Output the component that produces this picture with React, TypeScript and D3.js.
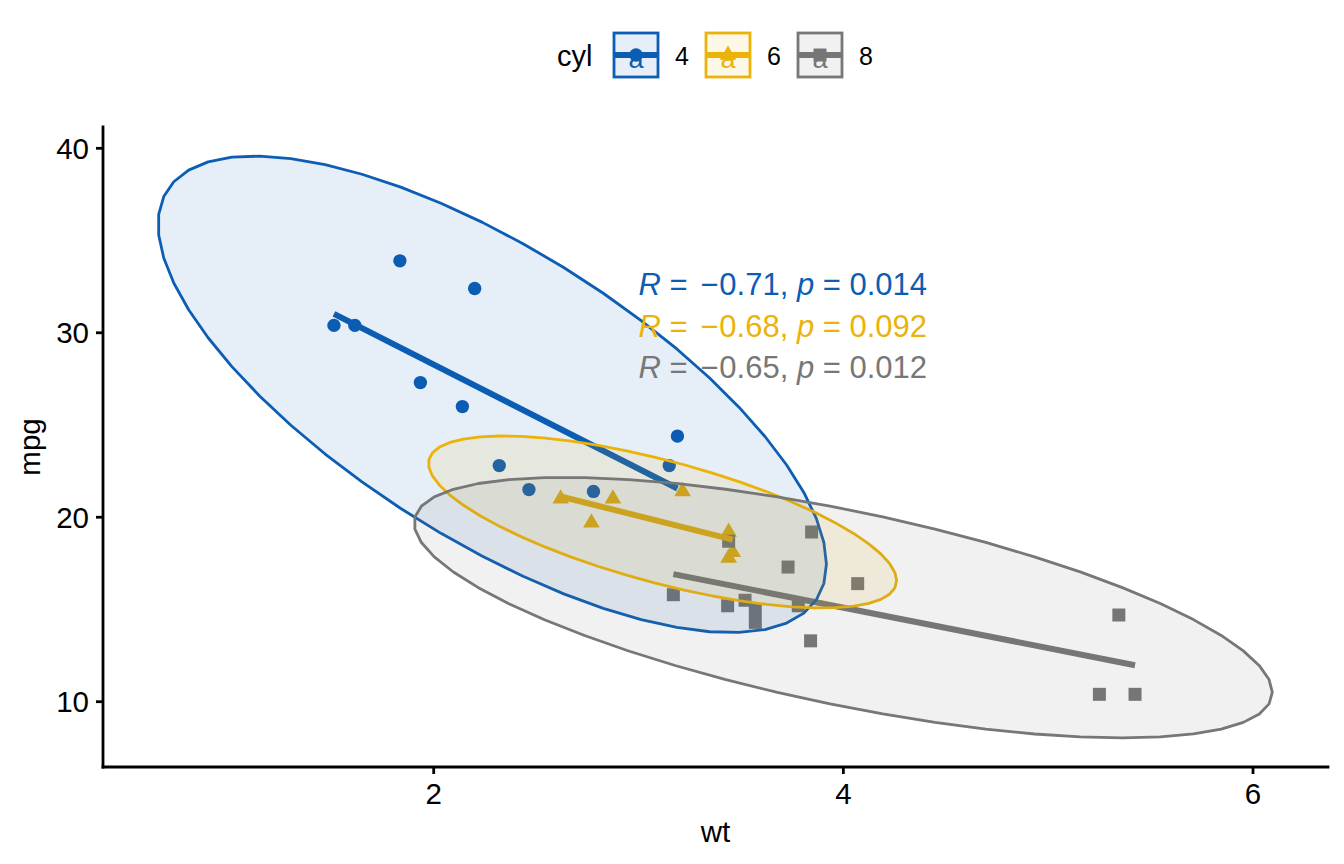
import React from 'react';
import * as d3 from 'd3';

// mtcars: weight (1000 lbs), miles per gallon, cylinders
const wt = [2.62, 2.875, 2.32, 3.215, 3.44, 3.46, 3.57, 3.19, 3.15, 3.44, 3.44, 4.07, 3.73, 3.78, 5.25, 5.424,
  5.345, 2.2, 1.615, 1.835, 2.465, 3.52, 3.435, 3.84, 3.845, 1.935, 2.14, 1.513, 3.17, 2.77, 3.57, 2.78];
const mpg = [21.0, 21.0, 22.8, 21.4, 18.7, 18.1, 14.3, 24.4, 22.8, 19.2, 17.8, 16.4, 17.3, 15.2, 10.4, 10.4,
  14.7, 32.4, 30.4, 33.9, 21.5, 15.5, 15.2, 13.3, 19.2, 27.3, 26.0, 30.4, 15.8, 19.7, 15.0, 21.4];
const cyl = [6, 6, 4, 6, 8, 6, 8, 4, 4, 6, 6, 8, 8, 8, 8, 8, 8, 4, 4, 4, 4, 8, 8, 8, 8, 4, 4, 4, 8, 6, 8, 4];

const groups = [4, 6, 8];
const colors = ['#0C5DB4', '#EBB30A', '#777777'];
const corR = ['0.71', '0.68', '0.65'];
const corP = ['0.014', '0.092', '0.012'];
const xTicks = [2, 4, 6];
const yTicks = [10, 20, 30, 40];

const W = 1344;
const H = 864;
const margin = { left: 103, right: 16, top: 127, bottom: 97 };
const font = '"Liberation Sans", Arial, Helvetica, sans-serif';

// normal-theory 95% ellipse, as stat_ellipse(type = "norm") builds it
const level = 0.95;
const segments = 51;

const stats = groups.map((g) => {
  const idx = d3.range(wt.length).filter((i) => cyl[i] === g);
  const xs = idx.map((i) => wt[i]);
  const ys = idx.map((i) => mpg[i]);
  const n = xs.length;
  const mx = d3.mean(xs)!;
  const my = d3.mean(ys)!;
  const sxx = d3.sum(xs, (x) => (x - mx) ** 2) / (n - 1);
  const syy = d3.sum(ys, (y) => (y - my) ** 2) / (n - 1);
  const sxy = d3.sum(xs.map((x, k) => (x - mx) * (ys[k] - my))) / (n - 1);
  const dfd = n - 1;
  const fq = (dfd / 2) * (Math.pow(1 - level, -2 / dfd) - 1);
  const radius = Math.sqrt(2 * fq);
  const a = Math.sqrt(sxx);
  const b = sxy / a;
  const c = Math.sqrt(syy - b * b);
  const ellipse: [number, number][] = d3.range(segments + 1).map((k) => {
    const t = (k * 2 * Math.PI) / segments;
    return [mx + radius * a * Math.cos(t), my + radius * (b * Math.cos(t) + c * Math.sin(t))];
  });
  const slope = sxy / sxx;
  const x0 = d3.min(xs)!;
  const x1 = d3.max(xs)!;
  const reg: [number, number][] = [
    [x0, my + slope * (x0 - mx)],
    [x1, my + slope * (x1 - mx)],
  ];
  return { xs, ys, ellipse, reg };
});

const allX = stats.flatMap((s) => [...s.xs, ...s.ellipse.map((p) => p[0])]);
const allY = stats.flatMap((s) => [...s.ys, ...s.ellipse.map((p) => p[1])]);
const expand = (ext: [number, number]): [number, number] => {
  const d = (ext[1] - ext[0]) * 0.05;
  return [ext[0] - d, ext[1] + d];
};

const x = d3.scaleLinear().domain(expand(d3.extent(allX) as [number, number])).range([margin.left, W - margin.right]);
const y = d3.scaleLinear().domain(expand(d3.extent(allY) as [number, number])).range([H - margin.bottom, margin.top]);

const line = d3.line<[number, number]>().x((d) => x(d[0])).y((d) => y(d[1]));

const shapes = [
  d3.symbol(d3.symbolCircle, 140),
  d3.symbol(d3.symbolTriangle, 120),
  d3.symbol(d3.symbolSquare, 169),
];

const App: React.FC = () => {
  const left = margin.left;
  const bottom = H - margin.bottom;
  const labelX = x(3);
  const labelY0 = 295;
  const labelStep = 41.5;
  const keyX0 = 614;
  const keyStep = 92;
  const keySize = 44;
  const keyY = 33;

  return (
    <svg width={W} height={H} style={{ position: 'absolute', left: 0, top: 0, background: '#fff' }} fontFamily={font}>
      {/* points */}
      {stats.map((s, gi) => (
        <g key={`p${gi}`} fill={colors[gi]}>
          {s.xs.map((xv, k) => (
            <path key={k} d={shapes[gi]()!} transform={`translate(${x(xv)},${y(s.ys[k])})`} />
          ))}
        </g>
      ))}
      {/* regression lines */}
      {stats.map((s, gi) => (
        <path key={`r${gi}`} d={line(s.reg)!} stroke={colors[gi]} strokeWidth={6} fill="none" />
      ))}
      {/* ellipses */}
      {stats.map((s, gi) => (
        <path
          key={`e${gi}`}
          d={line(s.ellipse)! + 'Z'}
          fill={colors[gi]}
          fillOpacity={0.1}
          stroke={colors[gi]}
          strokeWidth={2.8}
          strokeLinejoin="round"
        />
      ))}
      {/* correlation labels */}
      {groups.map((g, gi) => (
        <text key={`c${g}`} x={labelX} y={labelY0 + gi * labelStep} fill={colors[gi]} fontSize={31}>
          <tspan fontStyle="italic">R</tspan>
          <tspan>{' = '}</tspan>
          <tspan dx={4}>{'\u2212'}</tspan>
          <tspan dx={1}>{`${corR[gi]}, `}</tspan>
          <tspan fontStyle="italic">p</tspan>
          <tspan>{` = ${corP[gi]}`}</tspan>
        </text>
      ))}
      {/* axes */}
      <line x1={left} x2={W - margin.right} y1={bottom} y2={bottom} stroke="#000" strokeWidth={2.8} strokeLinecap="square" />
      <line x1={left} x2={left} y1={margin.top} y2={bottom} stroke="#000" strokeWidth={2.8} strokeLinecap="square" />
      {xTicks.map((t) => (
        <g key={`xt${t}`}>
          <line x1={x(t)} x2={x(t)} y1={bottom} y2={bottom + 7} stroke="#000" strokeWidth={2.8} />
          <text x={x(t)} y={bottom + 37} textAnchor="middle" fontSize={29.5} fill="#000">{t}</text>
        </g>
      ))}
      {yTicks.map((t) => (
        <g key={`yt${t}`}>
          <line x1={left - 7} x2={left} y1={y(t)} y2={y(t)} stroke="#000" strokeWidth={2.8} />
          <text x={left - 14} y={y(t) + 10.5} textAnchor="end" fontSize={29.5} fill="#000">{t}</text>
        </g>
      ))}
      <text x={(left + W - margin.right) / 2} y={842} textAnchor="middle" fontSize={29.5} fill="#000">wt</text>
      <text transform={`translate(40,${(margin.top + bottom) / 2}) rotate(-90)`} textAnchor="middle" fontSize={29.5} fill="#000">mpg</text>
      {/* legend */}
      <text x={557} y={66} fontSize={29} fill="#000">cyl</text>
      {groups.map((g, gi) => {
        const kx = keyX0 + gi * keyStep;
        const cx = kx + keySize / 2;
        const cy = keyY + keySize / 2;
        return (
          <g key={`l${g}`}>
            <path d={shapes[gi]()!} transform={`translate(${cx},${cy})`} fill={colors[gi]} />
            <line x1={kx} x2={kx + keySize} y1={cy} y2={cy} stroke={colors[gi]} strokeWidth={6} />
            <rect x={kx} y={keyY} width={keySize} height={keySize} fill={colors[gi]} fillOpacity={0.1} stroke={colors[gi]} strokeWidth={2.8} />
            <text x={cx} y={cy + 13} textAnchor="middle" fontSize={27} fill={colors[gi]}>a</text>
            <text x={kx + 61} y={65} fontSize={25} fill="#000">{g}</text>
          </g>
        );
      })}
    </svg>
  );
};

export default App;
